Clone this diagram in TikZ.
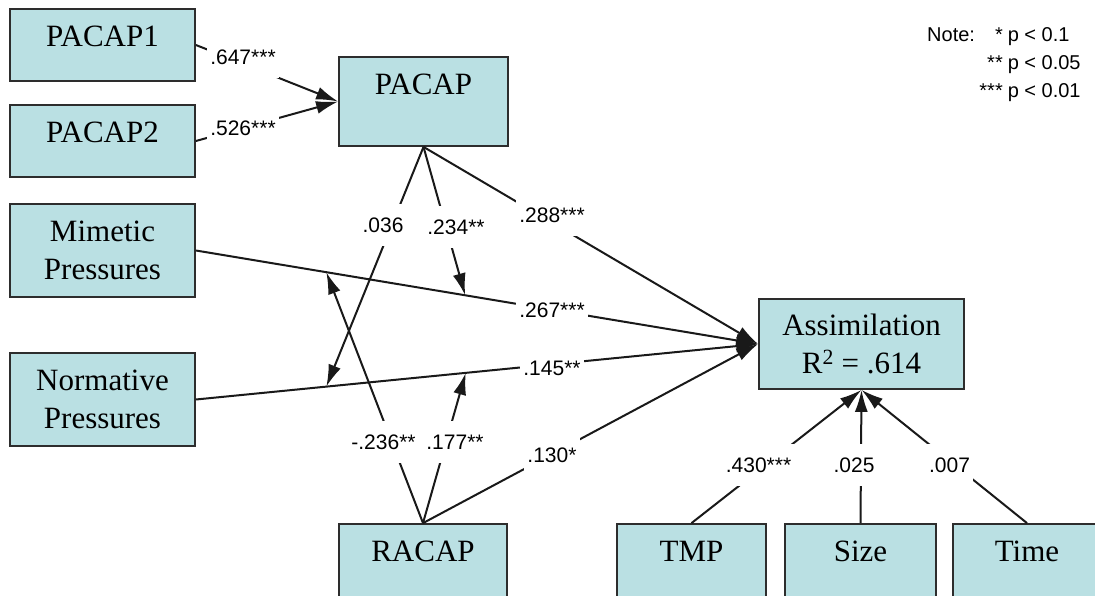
\documentclass[tikz,border=0pt]{standalone}
\usepackage{fontspec}
\setmainfont{Liberation Serif}
\newfontfamily\arialf{Liberation Sans}
\usetikzlibrary{arrows.meta,calc}
\definecolor{boxfill}{RGB}{186,224,227}
\definecolor{boxline}{RGB}{45,45,45}
\definecolor{linec}{RGB}{25,25,25}
\begin{document}
\begin{tikzpicture}[x=1pt,y=-1pt,
  box/.style={draw=boxline, line width=1.8pt, fill=boxfill, rectangle, inner sep=0pt,
              align=center, font=\fontsize{31}{38}\selectfont},
  btxt/.style={font=\fontsize{31}{38}\selectfont, align=center, inner sep=0pt},
  coef/.style={font=\arialf\fontsize{21}{24}\selectfont, fill=white, inner xsep=3pt, inner ysep=14pt},
  conn/.style={line width=2pt, draw=linec},
  arr/.style={conn, -{Latex[length=22pt,width=13pt]}},
]
\useasboundingbox (0,0) rectangle (1095,596);

% boxes
\node[box, minimum width=185pt, minimum height=72pt] (p1) at (102.5,45) {};
\node[btxt] (p1t) at ([yshift=-28pt]p1.north) {PACAP1};
\node[box, minimum width=185pt, minimum height=72pt] (p2) at (102.5,141) {};
\node[btxt] (p2t) at ([yshift=-28pt]p2.north) {PACAP2};
\node[box, minimum width=169pt, minimum height=89pt] (pacap) at (423.5,101.5) {};
\node[btxt] (pacapt) at ([yshift=-28pt]pacap.north) {PACAP};
\node[box, minimum width=185pt, minimum height=93pt] (mim) at (102.5,250.5) {Mimetic\\Pressures};
\node[box, minimum width=185pt, minimum height=93pt] (norm) at (102.5,399.5) {Normative\\Pressures};
\node[box, minimum width=205pt, minimum height=90pt, font=\fontsize{31}{37.5}\selectfont] (ass) at (861.5,344) {Assimilation\\R\textsuperscript{2} = .614};
\node[box, minimum width=168pt, minimum height=89pt] (racap) at (423,568.5) {};
\node[btxt] (racapt) at ([yshift=-28pt]racap.north) {RACAP};
\node[box, minimum width=149pt, minimum height=89pt] (tmp) at (691.5,568.5) {};
\node[btxt] (tmpt) at ([yshift=-28pt]tmp.north) {TMP};
\node[box, minimum width=151pt, minimum height=89pt] (size) at (860.5,568.5) {};
\node[btxt] (sizet) at ([yshift=-28pt]size.north) {Size};
\node[box, minimum width=148pt, minimum height=89pt] (time) at (1027,568.5) {};
\node[btxt] (timet) at ([yshift=-28pt]time.north) {Time};

% points on the paths that are moderated
\coordinate (m1) at ($(norm.east)!0.232!(ass.west)$);
\coordinate (m2) at ($(mim.east)!0.479!(ass.west)$);
\coordinate (m3) at ($(mim.east)!0.232!(ass.west)$);
\coordinate (m4) at ($(norm.east)!0.48!(ass.west)$);

% connectors
\draw[arr] (p1.east) -- (pacap.west);
\draw[arr] (p2.east) -- (pacap.west);
\draw[arr] (pacap.south) -- (ass.west);
\draw[arr] (mim.east) -- (ass.west);
\draw[arr] (norm.east) -- (ass.west);
\draw[arr] (racap.north) -- (ass.west);
\draw[arr] (pacap.south) -- (m1);
\draw[arr] (pacap.south) -- (m2);
\draw[arr] (racap.north) -- (m3);
\draw[arr] (racap.north) -- (m4);
\draw[arr] (tmp.north) -- (ass.south);
\draw[arr] (size.north) -- (ass.south);
\draw[arr] (time.north) -- (ass.south);

% coefficients
\node[coef] (l1) at (243,57) {.647***};
\node[coef] (l2) at (243,128) {.526***};
\node[coef] (l3) at (552,215) {.288***};
\node[coef] (l4) at (552,310) {.267***};
\node[coef] (l5) at (552,368) {.145**};
\node[coef] (l6) at (552,455) {.130*};
\node[coef] (l7) at (383,225) {.036};
\node[coef] (l8) at (456,227) {.234**};
\node[coef] (l9) at (383.5,442) {-.236**};
\node[coef] (l10) at (455,442) {.177**};
\node[coef] (l11) at (758.5,465) {.430***};
\node[coef] (l12) at (854,465) {.025};
\node[coef] (l13) at (949.5,465) {.007};

% note
\node[font=\arialf\fontsize{20}{28}\selectfont, inner sep=0pt, anchor=north west] (note) at (927,22)
  {\begin{tabular}{@{}r@{\hspace{5pt}}l@{}}
   Note:\hspace{20pt}* & p < 0.1\\ \relax
   ** & p < 0.05\\ \relax
   *** & p < 0.01
   \end{tabular}};
\end{tikzpicture}
\end{document}
